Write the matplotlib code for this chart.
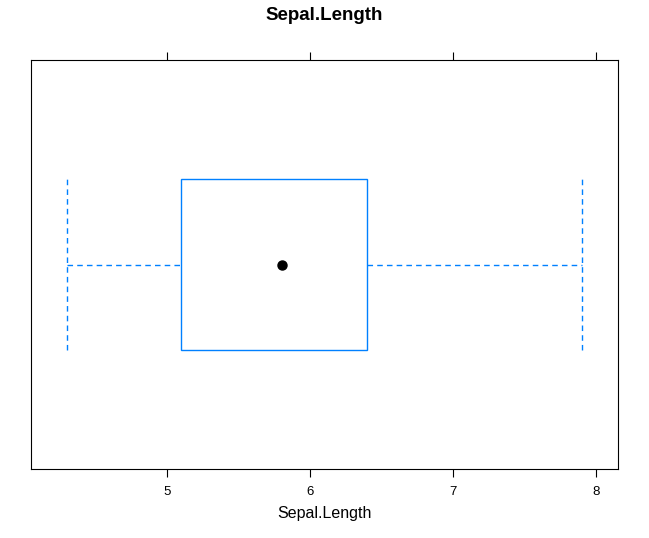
import matplotlib.pyplot as plt
from matplotlib.patches import Rectangle

plt.rcParams['font.family'] = ['Liberation Sans', 'DejaVu Sans']

# five number summary of iris Sepal.Length
var_name = "Sepal.Length"
lo_whisker = 4.3
q1 = 5.1
median = 5.8
q3 = 6.4
hi_whisker = 7.9
xticks = [5, 6, 7, 8]

blue = '#0080ff'

fig = plt.figure(figsize=(6.49, 5.38), dpi=100)
ax = fig.add_axes([31 / 649, 1 - 469 / 538, 587 / 649, 409 / 538])

pad = 0.07 * (hi_whisker - lo_whisker)
ax.set_xlim(lo_whisker - pad, hi_whisker + pad)
ax.set_ylim(0, 1)

yc = 0.5
half = 0.209
dash = (4, 3)

# box
ax.add_patch(Rectangle((q1, yc - half), q3 - q1, 2 * half, fill=False,
                       edgecolor=blue, lw=1))
# whiskers
ax.plot([lo_whisker, q1], [yc, yc], color=blue, lw=1, dashes=dash)
ax.plot([q3, hi_whisker], [yc, yc], color=blue, lw=1, dashes=dash)
ax.plot([lo_whisker, lo_whisker], [yc - half, yc + half], color=blue, lw=1, dashes=dash)
ax.plot([hi_whisker, hi_whisker], [yc - half, yc + half], color=blue, lw=1, dashes=dash)
# median dot
ax.plot([median], [yc], 'o', color='black', markersize=6.5)

ax.set_xticks(xticks)
ax.set_xticklabels([str(t) for t in xticks])
ax.tick_params(axis='x', top=True, bottom=True, labeltop=False, direction='out',
               length=6, width=0.8, labelsize=9.5, pad=6)
ax.set_yticks([])
for s in ax.spines.values():
    s.set_linewidth(0.8)

ax.set_xlabel(var_name, fontsize=11.5, labelpad=6)
fig.text(0.5, 1 - 16 / 538, var_name, ha='center', va='center',
         fontsize=13.5, fontweight='bold')

fig.savefig('out.png', dpi=100)
